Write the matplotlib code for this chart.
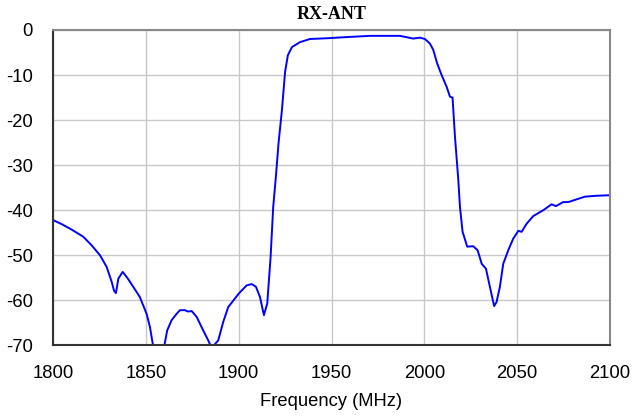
import matplotlib
matplotlib.use("Agg")
import matplotlib.pyplot as plt

plt.rcParams["axes.unicode_minus"] = False

freq = [1800, 1804.7, 1810, 1816.3, 1820.8, 1825.3, 1828.9, 1831.6, 1832.9, 1833.9,
        1835.2, 1837.5, 1840, 1843.2, 1846.8, 1850.4, 1852.2, 1853.7, 1855.5, 1858.5,
        1860, 1861.5, 1863.9, 1866.6, 1868.4, 1871, 1872.8, 1874.7, 1877.4, 1880.9,
        1883.6, 1884.8, 1885.8, 1886.7, 1889, 1891.7, 1894.4, 1898, 1900.3, 1904.3,
        1907, 1909.3, 1911.5, 1913.6, 1915.4, 1917.2, 1918.6, 1919.9, 1921.5, 1923.3,
        1925, 1926.5, 1928.7, 1933, 1938.4, 1949, 1957, 1970.7, 1986.9, 1994,
        1997.6, 2000.3, 2003, 2004.8, 2006.9, 2009.3, 2012, 2013.8, 2015.2, 2016.5,
        2018.3, 2019.2, 2020.6, 2023.1, 2026.3, 2028.7, 2030.9, 2033.2, 2035.3, 2037.6,
        2038.9, 2040.7, 2042.5, 2045.2, 2047.9, 2050.6, 2052.4, 2055.1, 2058.7, 2064.1,
        2068.5, 2070.9, 2074.8, 2077.5, 2082, 2086.5, 2092.8, 2099, 2100]
gain = [-42.2, -43.1, -44.3, -45.9, -47.8, -50.0, -52.6, -55.9, -57.9, -58.4,
        -55.2, -53.7, -55.0, -57.0, -59.3, -63.0, -65.9, -69.6, -75.0, -75.0,
        -70.0, -66.7, -64.4, -63.0, -62.2, -62.2, -62.5, -62.4, -63.7, -66.7,
        -68.9, -70.0, -72.0, -70.0, -68.9, -64.8, -61.5, -59.6, -58.4, -56.7,
        -56.4, -57.0, -59.3, -63.3, -60.7, -50.4, -39.3, -33.3, -25.0, -17.8,
        -9.3, -5.6, -3.8, -2.7, -2.0, -1.8, -1.6, -1.3, -1.3, -1.9,
        -1.7, -2.0, -3.0, -4.4, -7.4, -10.0, -12.6, -14.8, -15.0, -23.7,
        -33.3, -39.3, -44.8, -48.1, -48.0, -48.9, -51.9, -53.0, -57.0, -61.3,
        -60.4, -57.0, -51.9, -48.9, -46.3, -44.6, -44.8, -43.0, -41.3, -40.0,
        -38.7, -39.1, -38.2, -38.2, -37.6, -37.0, -36.8, -36.7, -36.7]

x_ticks = [1800, 1850, 1900, 1950, 2000, 2050, 2100]
y_ticks = [0, -10, -20, -30, -40, -50, -60, -70]

fig = plt.figure(figsize=(6.37, 4.19), dpi=100)
ax = fig.add_axes([53/637, 1-345.3/419, (610-53)/637, (345.3-30)/419])
ax.plot(freq, gain, color="#0000ff", linewidth=1.4)
ax.set_xlim(1800, 2100)
ax.set_ylim(-70, 0)
ax.set_xticks(x_ticks)
ax.set_yticks(y_ticks)
ax.grid(True, color="#c8c8c8", linewidth=1.0)
ax.set_axisbelow(True)
ax.tick_params(length=0, labelsize=13.3)
ax.tick_params(axis="x", pad=14)
ax.tick_params(axis="y", pad=14.5)
for lab in ax.get_xticklabels() + ax.get_yticklabels():
    lab.set_fontfamily("Liberation Sans")
for side in ["left", "bottom"]:
    ax.spines[side].set_color("#333333")
    ax.spines[side].set_linewidth(1.5)
for side in ["right", "top"]:
    ax.spines[side].set_color("#888888")
    ax.spines[side].set_linewidth(1.5)
ax.set_xlabel("Frequency (MHz)", fontsize=13.2, family="Liberation Sans", labelpad=8)
ax.set_title("RX-ANT", fontsize=13, fontweight="bold", family="Liberation Serif", pad=8)
fig.savefig("out.png", dpi=100)
